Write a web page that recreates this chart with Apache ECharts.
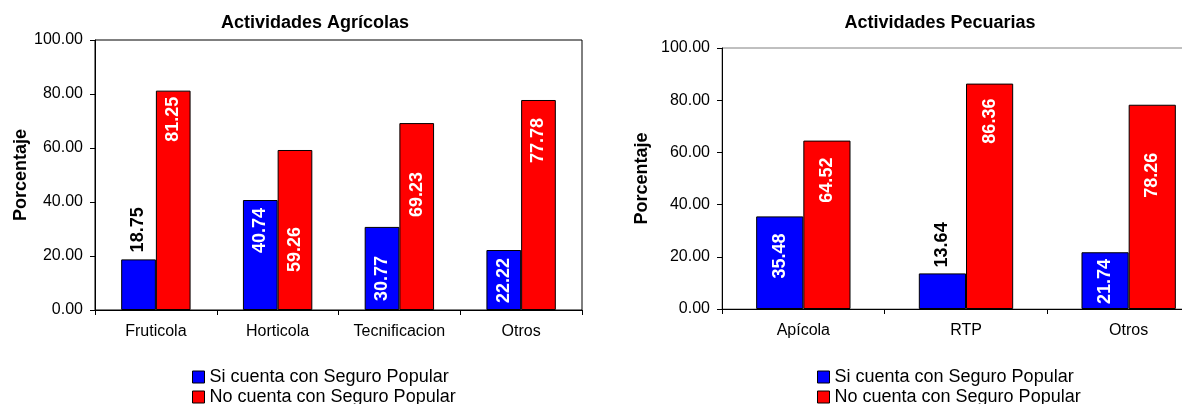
<!DOCTYPE html>
<html>
<head>
<meta charset="utf-8">
<title>Actividades Agrícolas y Pecuarias</title>
<script src="https://cdn.jsdelivr.net/npm/echarts@6/dist/echarts.min.js"></script>
<style>
  html, body { margin: 0; padding: 0; background: #fff; }
  #chart { width: 1182px; height: 404px; }
</style>
</head>
<body>
<div id="chart"></div>
<script>
// Porcentaje de productores con / sin Seguro Popular, por actividad
const seriesNames = ['Si cuenta con Seguro Popular', 'No cuenta con Seguro Popular'];

const agricolaCategories = ['Fruticola', 'Horticola', 'Tecnificacion', 'Otros'];
const agricolaSi = [18.75, 40.74, 30.77, 22.22];
const agricolaNo = [81.25, 59.26, 69.23, 77.78];

const pecuariaCategories = ['Apícola', 'RTP', 'Otros'];
const pecuariaSi = [35.48, 13.64, 21.74];
const pecuariaNo = [64.52, 86.36, 78.26];

const yMin = 0, yMax = 100, yStep = 20;

// where each value label sits on its bar: [position, distance in px]
const labelPlacement = {
  agricolaSi: [['top', 7], ['insideTop', 8], ['insideBottom', 9], ['insideBottom', 7]],
  agricolaNo: [['insideTop', 6], ['insideTop', 77], ['insideTop', 49], ['insideTop', 18]],
  pecuariaSi: [['insideTop', 17], ['top', 6], ['insideBottom', 5]],
  pecuariaNo: [['insideTop', 17], ['insideTop', 15], ['insideTop', 48]]
};

const FONT = '"Liberation Sans", Arial, Helvetica, sans-serif';
const BLUE = '#0000ff';
const RED = '#ff0000';

function barData(values, placement) {
  return values.map(function (v, i) {
    const pos = placement[i][0];
    const dist = placement[i][1];
    return {
      value: v,
      label: {
        position: pos,
        distance: dist,
        align: pos === 'insideTop' ? 'right' : 'left',
        color: pos === 'top' ? '#000' : '#fff'
      }
    };
  });
}

function barSeries(name, values, placement, color, axisIndex, catGap) {
  return {
    type: 'bar',
    name: name,
    xAxisIndex: axisIndex,
    yAxisIndex: axisIndex,
    barGap: '0%',
    barCategoryGap: catGap,
    itemStyle: { color: color, borderColor: '#000', borderWidth: 1 },
    label: {
      show: true,
      rotate: 90,
      verticalAlign: 'middle',
      fontFamily: FONT,
      fontSize: 18,
      fontWeight: 'bold',
      formatter: function (p) { return p.value.toFixed(2); }
    },
    emphasis: { disabled: true },
    data: barData(values, placement)
  };
}

function valueAxis(gridIndex, nameGap) {
  return {
    type: 'value',
    gridIndex: gridIndex,
    min: yMin, max: yMax, interval: yStep,
    name: 'Porcentaje',
    nameLocation: 'middle',
    nameRotate: 90,
    nameGap: nameGap,
    nameTextStyle: { fontFamily: FONT, fontSize: 18, fontWeight: 'bold', color: '#000' },
    axisLine: { show: true, lineStyle: { color: '#000', width: 1 } },
    axisTick: { show: true, length: 5, lineStyle: { color: '#000' } },
    axisLabel: {
      margin: 12, fontFamily: FONT, fontSize: 16, color: '#000',
      formatter: function (v) { return v.toFixed(2); }
    },
    splitLine: { show: false }
  };
}

function categoryAxis(gridIndex, cats) {
  return {
    type: 'category',
    gridIndex: gridIndex,
    data: cats,
    axisLine: { show: true, lineStyle: { color: '#000', width: 1 } },
    axisTick: { show: true, length: 5, alignWithLabel: false, lineStyle: { color: '#000' } },
    axisLabel: { margin: 14, fontFamily: FONT, fontSize: 16, color: '#000', interval: 0 },
    splitLine: { show: false }
  };
}

// one legend row per series, stacked under each panel
function legendRow(left, top, name) {
  return {
    left: left,
    top: top,
    padding: 0,
    itemWidth: 12,
    itemHeight: 12,
    icon: 'rect',
    selectedMode: false,
    data: [name],
    itemStyle: { borderColor: '#000', borderWidth: 1 },
    textStyle: { fontFamily: FONT, fontSize: 18, color: '#000', lineHeight: 20 }
  };
}

const chart = echarts.init(document.getElementById('chart'), null, { renderer: 'canvas' });

chart.setOption({
  animation: false,
  backgroundColor: '#fff',
  title: [
    {
      text: 'Actividades Agrícolas', left: 315, top: 14, padding: 0, textAlign: 'center',
      textStyle: { fontFamily: FONT, fontSize: 18, fontWeight: 'bold', color: '#000' }
    },
    {
      text: 'Actividades Pecuarias', left: 940, top: 14, padding: 0, textAlign: 'center',
      textStyle: { fontFamily: FONT, fontSize: 18, fontWeight: 'bold', color: '#000' }
    }
  ],
  legend: [
    legendRow(192, 367, seriesNames[0]),
    legendRow(192, 387, seriesNames[1]),
    legendRow(817, 367, seriesNames[0]),
    legendRow(817, 387, seriesNames[1])
  ],
  grid: [
    {
      left: 95, top: 40, width: 487, bottom: 94, outerBoundsMode: 'none',
      show: true, borderColor: '#000', borderWidth: 1, backgroundColor: 'transparent'
    },
    {
      // the Pecuarias panel runs past the right edge of the canvas
      left: 722, top: 48, width: 488, bottom: 95, outerBoundsMode: 'none',
      show: true, borderColor: '#808080', borderWidth: 1, backgroundColor: 'transparent'
    }
  ],
  xAxis: [categoryAxis(0, agricolaCategories), categoryAxis(1, pecuariaCategories)],
  yAxis: [valueAxis(0, 64), valueAxis(1, 71)],
  series: [
    barSeries(seriesNames[0], agricolaSi, labelPlacement.agricolaSi, BLUE, 0, '43%'),
    barSeries(seriesNames[1], agricolaNo, labelPlacement.agricolaNo, RED, 0, '43%'),
    barSeries(seriesNames[0], pecuariaSi, labelPlacement.pecuariaSi, BLUE, 1, '42%'),
    barSeries(seriesNames[1], pecuariaNo, labelPlacement.pecuariaNo, RED, 1, '42%')
  ]
});
</script>
</body>
</html>
